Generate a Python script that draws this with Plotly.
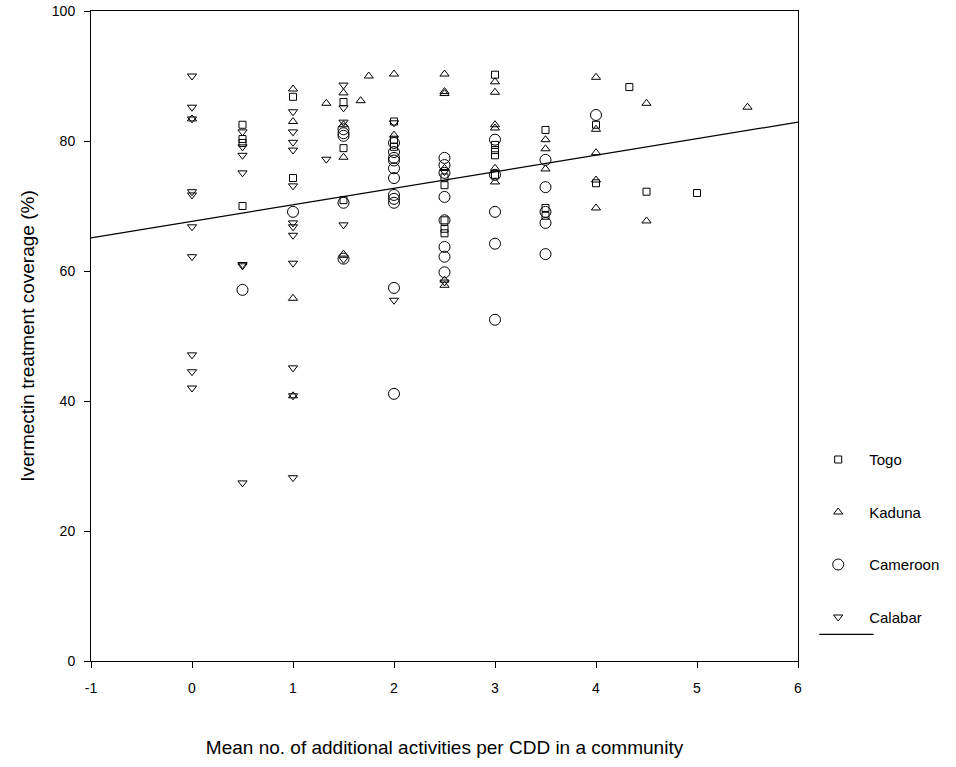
import plotly.graph_objects as go

# ---- data ----
togo_x = [0.5, 0.5, 0.5, 0.5, 1, 1, 1.5, 1.5, 1.5, 2, 2, 2, 2.5, 2.5, 2.5, 2.5, 2.5,
          3, 3, 3, 3, 3, 3.5, 3.5, 3.5, 4, 4, 4.33, 4.5, 5]
togo_y = [82.5, 80.3, 79.7, 70.0, 86.8, 74.3, 86.0, 78.9, 70.9, 83.0, 80.2, 79.1, 74.4, 73.2, 67.8, 66.5, 65.8,
          90.2, 79.4, 78.6, 77.8, 74.8, 81.7, 69.7, 68.5, 82.5, 73.5, 88.3, 72.2, 72.0]

kaduna_x = [0, 1, 1, 1, 1, 1.33, 1.5, 1.5, 1.5, 1.5, 1.67, 1.75, 2, 2, 2.5, 2.5, 2.5, 2.5, 2.5, 2.5,
            3, 3, 3, 3, 3, 3, 3.5, 3.5, 3.5, 4, 4, 4, 4, 4, 4.5, 4.5, 5.5]
kaduna_y = [83.4, 88.0, 83.0, 55.8, 40.8, 85.8, 87.4, 82.5, 77.5, 62.6, 86.2, 90.0, 90.3, 80.9, 90.3, 87.6, 87.3, 75.8, 58.6, 57.8,
            89.1, 87.5, 82.5, 82.0, 75.8, 73.7, 80.2, 78.8, 75.7, 89.8, 81.8, 78.2, 74.0, 69.7, 85.8, 67.7, 85.2]

cameroon_x = [0.5, 1, 1.5, 1.5, 1.5, 1.5, 1.5, 2, 2, 2, 2, 2, 2, 2, 2, 2, 2, 2,
              2.5, 2.5, 2.5, 2.5, 2.5, 2.5, 2.5, 2.5, 3, 3, 3, 3, 3, 3.5, 3.5, 3.5, 3.5, 3.5, 4]
cameroon_y = [57.1, 69.1, 81.8, 81.2, 80.8, 70.5, 61.9, 79.7, 78.3, 77.4, 75.8, 74.3, 71.7, 71.1, 70.5, 57.4, 41.1, 77.0,
              77.4, 76.3, 75.1, 71.4, 67.8, 63.7, 62.2, 59.8, 80.2, 74.8, 69.1, 64.2, 52.5, 77.1, 72.9, 69.1, 67.4, 62.6, 84.0]

calabar_x = [0, 0, 0, 0, 0, 0, 0, 0, 0, 0, 0.5, 0.5, 0.5, 0.5, 0.5, 0.5, 0.5,
             1, 1, 1, 1, 1, 1, 1, 1, 1, 1, 1, 1, 1.33, 1.5, 1.5, 1.5, 1.5, 1.5, 2, 2, 2.5, 2.5]
calabar_y = [90.0, 85.2, 83.4, 72.2, 71.7, 66.8, 62.2, 47.1, 44.5, 42.0, 81.4, 79.1, 77.8, 75.1, 61.0, 60.8, 27.4,
             84.5, 81.4, 79.8, 78.6, 73.1, 67.4, 66.8, 65.5, 61.2, 45.1, 40.8, 28.2, 77.2, 88.6, 85.1, 82.9, 67.1, 61.8, 82.8, 55.5, 75.3, 58.3]

fit_x = [-1, 6]
fit_y = [65.1, 82.9]

x_ticks = [-1, 0, 1, 2, 3, 4, 5, 6]
y_ticks = [0, 20, 40, 60, 80, 100]

FONT = "Liberation Sans, Arial, sans-serif"

fig = go.Figure()

def add_group(name, xs, ys, symbol, size, grp):
    fig.add_trace(go.Scatter(
        x=xs, y=ys, mode="markers", name=name, legendgroup=grp,
        marker=dict(symbol=symbol, size=size, color="black",
                    line=dict(color="black", width=1)),
    ))

add_group("Togo", togo_x, togo_y, "square-open", 7, "g1")
add_group("Kaduna", kaduna_x, kaduna_y, "triangle-up-open", 8, "g2")
add_group("Cameroon", cameroon_x, cameroon_y, "circle-open", 11, "g3")
add_group("Calabar", calabar_x, calabar_y, "triangle-down-open", 8, "g4")

fig.add_trace(go.Scatter(
    x=fit_x, y=fit_y, mode="lines", name="fit", showlegend=False,
    line=dict(color="black", width=1.2),
))

# legend key for the fitted line (wider than plotly's built-in line key)
fig.add_shape(type="line", xref="paper", yref="paper",
              x0=1.030, x1=1.107, y0=0.041, y1=0.041,
              line=dict(color="black", width=1.2))

fig.update_layout(
    width=956, height=767,
    margin=dict(l=91, r=154, t=11, b=106),
    plot_bgcolor="white", paper_bgcolor="white",
    font=dict(family=FONT, color="black", size=13),
    showlegend=True,
    legend=dict(
        x=1.013, xanchor="left", y=0.335, yanchor="top",
        font=dict(family=FONT, size=15, color="black"),
        tracegroupgap=30, itemsizing="trace", itemwidth=52,
        bgcolor="rgba(0,0,0,0)",
    ),
)

fig.update_xaxes(
    range=[-1, 6], tickvals=x_ticks, ticktext=[str(v) for v in x_ticks],
    showgrid=False, zeroline=False, automargin=False,
    showline=True, linecolor="black", linewidth=1, mirror=True,
    ticks="outside", ticklen=6, tickcolor="black", ticklabelstandoff=8,
    ticklabeloverflow="allow",
    tickfont=dict(family=FONT, size=14),
    title=dict(text="Mean no. of additional activities per CDD in a community",
               font=dict(family=FONT, size=19), standoff=45),
)
fig.update_yaxes(
    range=[0, 100], tickvals=y_ticks, ticktext=[str(v) for v in y_ticks],
    showgrid=False, zeroline=False, automargin=False,
    showline=True, linecolor="black", linewidth=1, mirror=True,
    ticks="outside", ticklen=6, tickcolor="black", ticklabelstandoff=6,
    ticklabeloverflow="allow",
    tickfont=dict(family=FONT, size=14),
    title=dict(text="Ivermectin treatment coverage (%)",
               font=dict(family=FONT, size=19), standoff=12),
)

fig.write_html(
    "out.html",
    config={"displayModeBar": False},
    post_script="document.body.style.margin='0';document.body.style.overflow='hidden';",
)
